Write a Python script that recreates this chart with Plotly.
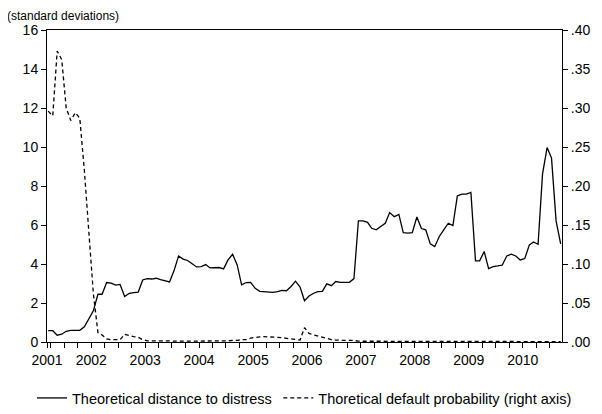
import pandas as pd
import plotly.graph_objects as go

# Monthly observations, March 2001 .. September 2010 (115 months)
start_month = "2001-03-01"
n_months = 115

distance_to_distress = [
    0.58, 0.58, 0.35, 0.40, 0.55, 0.60, 0.60, 0.60, 0.78, 1.15,   # 2001M3-2001M12
    1.60, 2.45, 2.45, 3.05, 3.02, 2.92, 2.95, 2.33, 2.50, 2.53,   # 2002M1-2002M10
    2.56, 3.18, 3.25, 3.23, 3.27, 3.20, 3.14, 3.08, 3.65, 4.41,   # 2002M11-2003M8
    4.25, 4.18, 4.01, 3.85, 3.87, 3.97, 3.80, 3.82, 3.82, 3.75,   # 2003M9-2004M6
    4.21, 4.50, 3.95, 2.93, 3.05, 3.06, 2.75, 2.60, 2.58, 2.58,   # 2004M7-2005M4
    2.54, 2.58, 2.65, 2.63, 2.85, 3.12, 2.82, 2.12, 2.36, 2.50,   # 2005M5-2006M2
    2.58, 2.60, 2.98, 2.89, 3.10, 3.06, 3.06, 3.06, 3.25, 6.21,   # 2006M3-2006M12
    6.21, 6.14, 5.83, 5.75, 5.92, 6.09, 6.64, 6.43, 6.54, 5.61,   # 2007M1-2007M10
    5.58, 5.61, 6.41, 5.82, 5.75, 5.03, 4.89, 5.41, 5.75, 6.09,   # 2007M11-2008M8
    5.97, 7.49, 7.58, 7.58, 7.67, 4.16, 4.16, 4.64, 3.76, 3.87,   # 2008M9-2009M6
    3.90, 3.94, 4.41, 4.50, 4.41, 4.21, 4.28, 4.98, 5.13, 5.01,   # 2009M7-2010M4
    8.61, 9.97, 9.43, 6.21, 5.03,                                 # 2010M5-2010M9
]

default_probability = [
    0.296, 0.290, 0.373, 0.362, 0.300, 0.284, 0.294, 0.287, 0.220, 0.140,
    0.062, 0.012, 0.009, 0.004, 0.003, 0.003, 0.003, 0.010, 0.008, 0.007,
    0.006, 0.003, 0.0015, 0.0015, 0.0015, 0.002, 0.0015, 0.0015, 0.001, 0.001,
    0.001, 0.001, 0.001, 0.001, 0.001, 0.001, 0.001, 0.001, 0.001, 0.001,
    0.0015, 0.002, 0.002, 0.003, 0.003, 0.005, 0.0062, 0.0066, 0.0068, 0.0068,
    0.0068, 0.006, 0.0055, 0.0048, 0.004, 0.003, 0.0025, 0.0184, 0.011, 0.009,
    0.0075, 0.006, 0.004, 0.003, 0.0025, 0.002, 0.002, 0.002, 0.002, 0.001,
    0.001, 0.001, 0.001, 0.0005, 0.0005, 0.0005, 0.0005, 0.0005, 0.0005, 0.0005,
    0.0005, 0.0005, 0.0005, 0.0005, 0.0005, 0.0005, 0.0005, 0.0005, 0.0005, 0.0005,
    0.0005, 0.0005, 0.0005, 0.0005, 0.0005, 0.0005, 0.0005, 0.0005, 0.0005, 0.0005,
    0.0005, 0.0005, 0.0005, 0.0005, 0.0005, 0.0005, 0.0005, 0.0005, 0.0005, 0.0005,
    0.0005, 0.0005, 0.0005, 0.0005, 0.0005,
]

assert len(distance_to_distress) == n_months, len(distance_to_distress)
assert len(default_probability) == n_months, len(default_probability)

series_names = ["Theoretical distance to distress",
                "Thoretical default probability (right axis)"]

left_ticks = [0, 2, 4, 6, 8, 10, 12, 14, 16]
right_ticks = [0.00, 0.05, 0.10, 0.15, 0.20, 0.25, 0.30, 0.35, 0.40]
right_tick_text = [".00", ".05", ".10", ".15", ".20", ".25", ".30", ".35", ".40"]

# observations plotted mid-month
dates = pd.date_range(start_month, periods=n_months, freq="MS") + pd.Timedelta(days=14)

# x ticks: quarterly ticks, year labels at January, first year label at left edge
x_range = ["2001-03-07", "2010-09-24"]
quarter_ticks = pd.date_range("2001-04-01", "2010-07-01", freq="QS")
x_tickvals = [pd.Timestamp(x_range[0])] + list(quarter_ticks)
x_ticktext = ["2001"] + [str(d.year) if d.month == 1 else "" for d in quarter_ticks]

FONT = "Liberation Sans, Arial, sans-serif"

fig = go.Figure()
fig.add_trace(go.Scatter(
    x=dates, y=distance_to_distress, name=series_names[0], mode="lines",
    line=dict(color="black", width=1.3), yaxis="y", legend="legend",
))
fig.add_trace(go.Scatter(
    x=dates, y=default_probability, name=series_names[1], mode="lines",
    line=dict(color="black", width=1.3, dash="4px,3px"), yaxis="y2",
    legend="legend2",
))

legend_common = dict(
    orientation="h", xref="container", yref="container",
    xanchor="left", y=0.0394, yanchor="middle",
    font=dict(size=14.5), itemwidth=30, bgcolor="rgba(0,0,0,0)",
)

# page body has an 8px margin; figure sized to fit the 602x414 window
fig.update_layout(
    width=594, height=406,
    margin=dict(l=38.5, r=38, t=22, b=72),
    paper_bgcolor="white", plot_bgcolor="white",
    font=dict(family=FONT, size=14, color="black"),
    showlegend=True,
    legend=dict(x=0.0404, **legend_common),
    legend2=dict(x=0.455, **legend_common),
    xaxis=dict(
        type="date", range=x_range,
        tickmode="array", tickvals=x_tickvals, ticktext=x_ticktext,
        ticks="outside", ticklen=5, tickwidth=1, tickcolor="black",
        showline=True, linecolor="black", linewidth=1, mirror=True,
        showgrid=False, zeroline=False, tickangle=0,
    ),
    yaxis=dict(
        range=[0, 16], tickmode="array", tickvals=left_ticks,
        ticks="outside", ticklen=5, tickwidth=1, tickcolor="black",
        showline=True, linecolor="black", linewidth=1,
        showgrid=False, zeroline=False,
    ),
    yaxis2=dict(
        range=[0, 0.40], overlaying="y", side="right",
        tickmode="array", tickvals=right_ticks, ticktext=right_tick_text,
        ticks="outside", ticklen=5, tickwidth=1, tickcolor="black",
        showline=True, linecolor="black", linewidth=1,
        showgrid=False, zeroline=False,
    ),
    annotations=[dict(
        text="(standard deviations)", xref="paper", yref="paper",
        x=-0.082, y=1.0, xanchor="left", yanchor="middle", yshift=14,
        showarrow=False, font=dict(size=12, family=FONT),
    )],
)

fig.write_html("out.html")
